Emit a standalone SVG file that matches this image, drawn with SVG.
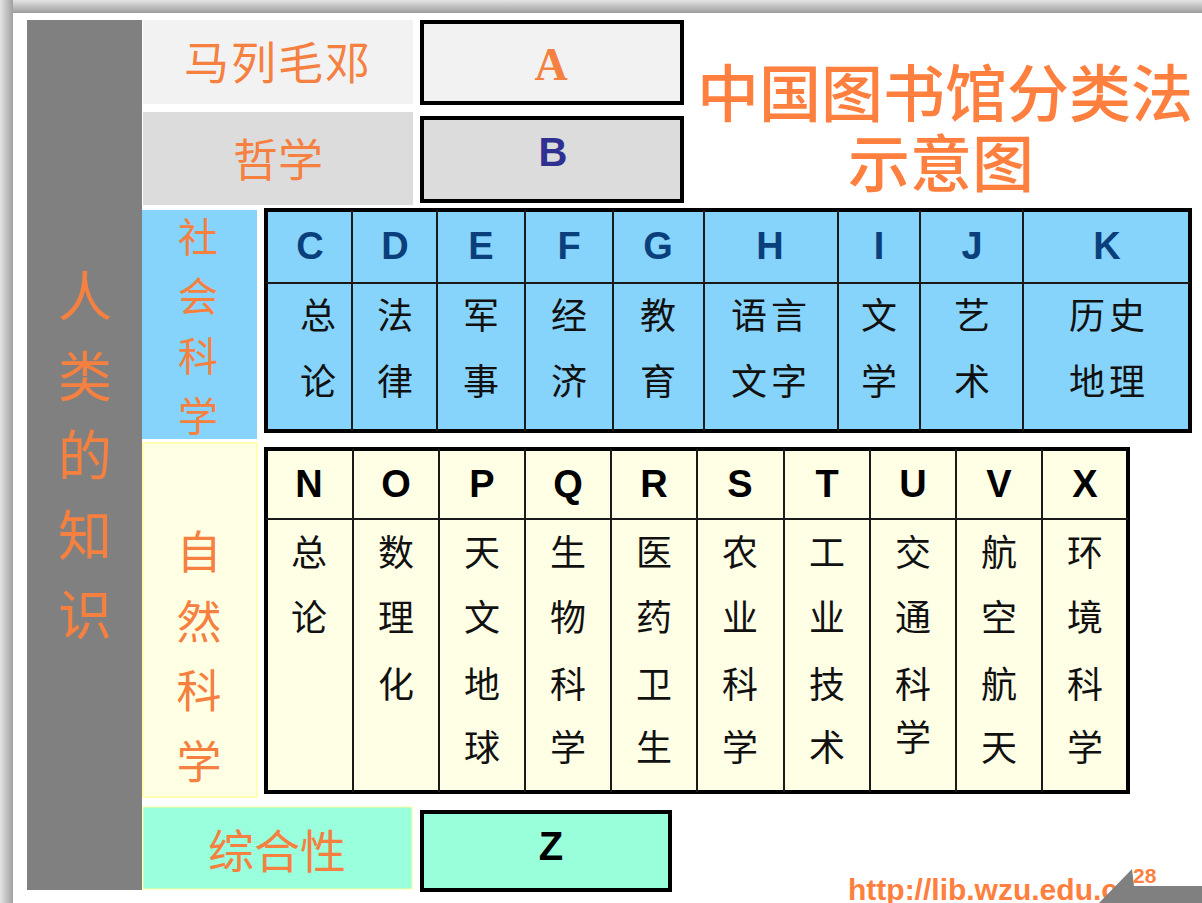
<svg xmlns="http://www.w3.org/2000/svg" width="1202" height="903" viewBox="0 0 1202 903">
<defs>
<linearGradient id="gTop" x1="0" y1="0" x2="0" y2="1"><stop offset="0" stop-color="#e4e4e4"/><stop offset="1" stop-color="#9c9c9c"/></linearGradient>
<linearGradient id="gLeft" x1="0" y1="0" x2="1" y2="0"><stop offset="0" stop-color="#e4e4e4"/><stop offset="1" stop-color="#a0a0a0"/></linearGradient>
<style>
.cjk{font-family:"Noto Sans CJK SC","Noto Sans CJK TC",sans-serif;text-anchor:middle}
.org{fill:#f5803f}
.body{font-size:36px;fill:#111}
.lat{font-family:"Liberation Sans",Arial,sans-serif;font-weight:bold;text-anchor:middle}
.hb{font-size:38px;fill:#0a3f7c}
.hy{font-size:38px;fill:#000}
.box{stroke:#000;stroke-width:4}
.grid{stroke:#1a1a1a;stroke-width:2;fill:none}
</style>
</defs>
<rect x="0" y="0" width="1202" height="903" fill="#ffffff"/>
<rect x="0" y="0" width="1202" height="13" fill="url(#gTop)"/>
<rect x="0" y="0" width="13" height="903" fill="url(#gLeft)"/>

<g id="human-knowledge">
<rect x="27" y="20" width="115" height="870" fill="#808080"/>
<g class="cjk org" font-size="54">
<text x="85" y="317">人</text>
<text x="85" y="397">类</text>
<text x="85" y="476">的</text>
<text x="85" y="556">知</text>
<text x="85" y="635">识</text>
</g>
</g>

<g id="marxism">
<rect x="143" y="20" width="270" height="84" fill="#f2f2f2"/>
<text class="cjk org" x="278" y="80" font-size="45" letter-spacing="2">马列毛邓</text>
</g>
<g id="class-A">
<rect class="box" x="422" y="22" width="260" height="81" fill="#f2f2f2"/>
<text x="551" y="80" font-family="Liberation Serif,serif" font-weight="bold" font-size="46" fill="#f5803f" text-anchor="middle">A</text>
</g>

<g id="philosophy">
<rect x="143" y="112" width="270" height="93" fill="#dcdcdc"/>
<text class="cjk org" x="278" y="177" font-size="45">哲学</text>
</g>
<g id="class-B">
<rect class="box" x="422" y="118" width="260" height="83" fill="#dcdcdc"/>
<text class="lat" x="553" y="166" font-size="40" fill="#2e3192">B</text>
</g>

<g id="title">
<text class="cjk" x="945" y="117" font-size="62" font-weight="500" fill="#ff7f3f">中国图书馆分类法</text>
<text class="cjk" x="941" y="187" font-size="62" font-weight="500" fill="#ff7f3f">示意图</text>
</g>

<g id="social-sciences">
<rect x="142" y="210" width="115" height="229" fill="#86d4fb"/>
<g class="cjk org" font-size="40">
<text x="198" y="252">社</text>
<text x="198" y="311">会</text>
<text x="198" y="371">科</text>
<text x="198" y="431">学</text>
</g>
</g>

<g id="social-table">
<rect x="266" y="210" width="924" height="221" fill="#86d4fb" stroke="#000" stroke-width="4"/>
<path class="grid" d="M266 283H1190M352 210V431M437 210V431M525 210V431M613 210V431M704 210V431M838 210V431M920 210V431M1023 210V431"/>
<g class="lat hb">
<text x="310" y="259">C</text>
<text x="395" y="259">D</text>
<text x="481" y="259">E</text>
<text x="569" y="259">F</text>
<text x="658" y="259">G</text>
<text x="770" y="259">H</text>
<text x="879" y="259">I</text>
<text x="972" y="259">J</text>
<text x="1107" y="259">K</text>
</g>
<g class="cjk body">
<text x="318" y="329">总</text><text x="318" y="395">论</text>
<text x="395" y="329">法</text><text x="395" y="395">律</text>
<text x="481" y="329">军</text><text x="481" y="395">事</text>
<text x="569" y="329">经</text><text x="569" y="395">济</text>
<text x="658" y="329">教</text><text x="658" y="395">育</text>
<text x="771" y="329" letter-spacing="4">语言</text><text x="771" y="395" letter-spacing="4">文字</text>
<text x="879" y="329">文</text><text x="879" y="395">学</text>
<text x="972" y="329">艺</text><text x="972" y="395">术</text>
<text x="1109" y="329" letter-spacing="4">历史</text><text x="1109" y="395" letter-spacing="4">地理</text>
</g>
</g>

<g id="natural-sciences">
<rect x="143" y="443" width="114" height="354" fill="#ffffe4" stroke="#ffff9e" stroke-width="1.5"/>
<g class="cjk org" font-size="45">
<text x="199" y="569">自</text>
<text x="199" y="639">然</text>
<text x="199" y="708">科</text>
<text x="199" y="779">学</text>
</g>
</g>

<g id="natural-table">
<rect x="266" y="449" width="862" height="343" fill="#ffffe6" stroke="#000" stroke-width="4"/>
<path class="grid" d="M266 519H1128M353 449V792M439 449V792M525 449V792M611 449V792M697 449V792M784 449V792M870 449V792M956 449V792M1042 449V792"/>
<g class="lat hy">
<text x="309" y="497">N</text>
<text x="396" y="497">O</text>
<text x="482" y="497">P</text>
<text x="568" y="497">Q</text>
<text x="654" y="497">R</text>
<text x="740" y="497">S</text>
<text x="827" y="497">T</text>
<text x="913" y="497">U</text>
<text x="999" y="497">V</text>
<text x="1085" y="497">X</text>
</g>
<g class="cjk body">
<text x="309" y="566">总</text><text x="309" y="631">论</text>
<text x="396" y="566">数</text><text x="396" y="631">理</text><text x="396" y="698">化</text>
<text x="482" y="566">天</text><text x="482" y="631">文</text><text x="482" y="698">地</text><text x="482" y="761">球</text>
<text x="568" y="566">生</text><text x="568" y="631">物</text><text x="568" y="698">科</text><text x="568" y="761">学</text>
<text x="654" y="566">医</text><text x="654" y="631">药</text><text x="654" y="698">卫</text><text x="654" y="761">生</text>
<text x="740" y="566">农</text><text x="740" y="631">业</text><text x="740" y="698">科</text><text x="740" y="761">学</text>
<text x="827" y="566">工</text><text x="827" y="631">业</text><text x="827" y="698">技</text><text x="827" y="761">术</text>
<text x="913" y="566">交</text><text x="913" y="631">通</text><text x="913" y="698">科</text><text x="913" y="751">学</text>
<text x="999" y="566">航</text><text x="999" y="631">空</text><text x="999" y="698">航</text><text x="999" y="761">天</text>
<text x="1085" y="566">环</text><text x="1085" y="631">境</text><text x="1085" y="698">科</text><text x="1085" y="761">学</text>
</g>
</g>

<g id="comprehensive">
<rect x="143" y="807" width="269" height="82" fill="#99ffdd" stroke="#ffff99" stroke-width="1"/>
<text class="cjk org" x="277" y="868" font-size="46">综合性</text>
</g>
<g id="class-Z">
<rect class="box" x="422" y="812" width="248" height="78" fill="#99ffdb"/>
<text class="lat" x="551" y="860" font-size="40" fill="#000">Z</text>
</g>

<g id="connectors"></g>

<g id="footer">
<text x="848" y="900" font-family="Liberation Sans,Arial,sans-serif" font-weight="bold" font-size="30" fill="#ff7f3f">http://lib.wzu.edu.c</text>
<polygon points="1099,903 1132,869 1134,886 1202,886 1202,903" fill="#808080"/>
<text x="1133" y="883" font-family="Liberation Sans,Arial,sans-serif" font-weight="bold" font-size="21" fill="#ff7f3f">28</text>
</g>
</svg>
